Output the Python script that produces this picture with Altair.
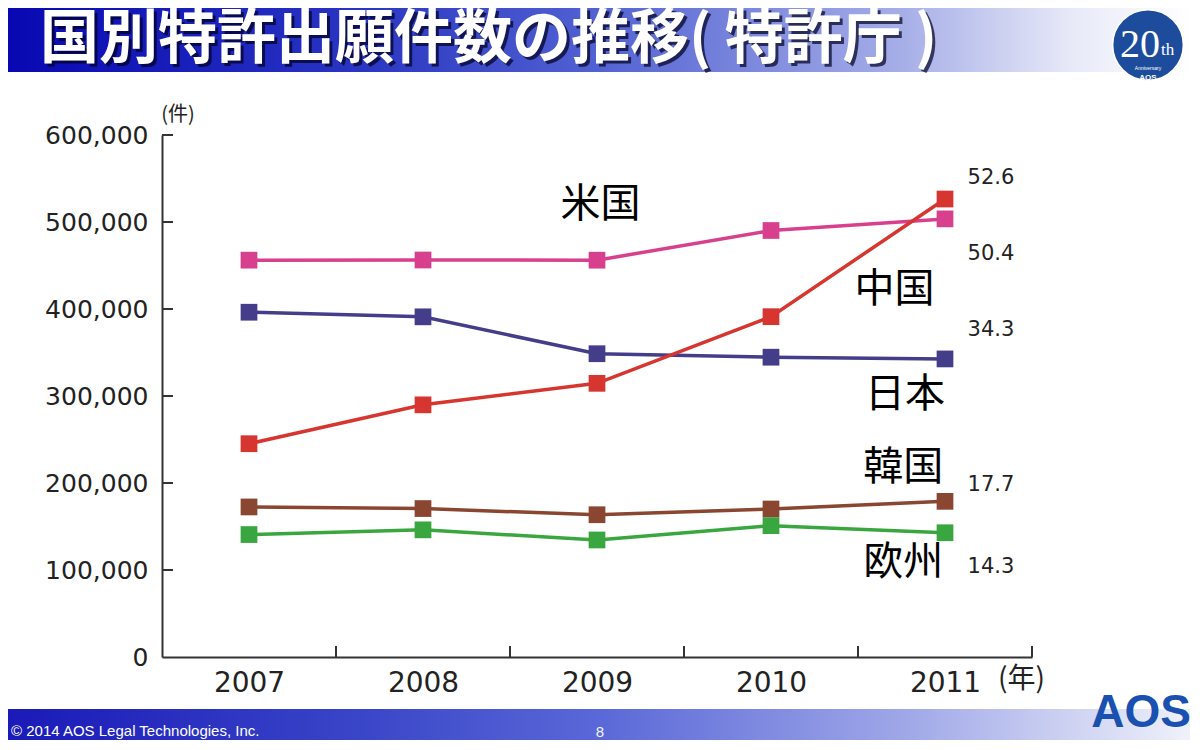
import altair as alt
import pandas as pd

# ---- data ----
years = [2007, 2008, 2009, 2010, 2011]
countries = ["米国", "日本", "中国", "韓国", "欧州"]
us = [456154, 456321, 456106, 490226, 503582]
japan = [396291, 391002, 348596, 344598, 342610]
china = [245161, 289838, 314573, 391177, 526412]
korea = [172469, 170632, 163523, 170101, 178924]
europe = [140763, 146150, 134511, 150961, 142822]
colors = ["#D8408E", "#443D8A", "#D63530", "#8A4630", "#3AA63F"]

y_ticks = [100000, 200000, 300000, 400000, 500000, 600000]
x_band_edges = [2007.5, 2008.5, 2009.5, 2010.5, 2011.5]

# annotation texts and their data positions
name_text = ["米国", "中国", "日本", "韓国", "欧州"]
name_x = [2009.02, 2010.71, 2010.77, 2010.76, 2010.76]
name_y = [520000, 422000, 301000, 217000, 108000]

share_text = ["52.6", "50.4", "34.3", "17.7", "14.3"]
share_x = [2011.13, 2011.13, 2011.13, 2011.13, 2011.13]
share_y = [550600, 463200, 375900, 197700, 103400]

title_text = "国別特許出願件数の推移( 特許庁 )"
footer_text = "© 2014 AOS Legal Technologies, Inc."
page_no = "8"

# ---- tables ----
series = {"米国": us, "日本": japan, "中国": china, "韓国": korea, "欧州": europe}
rows = []
for c in countries:
    for yr, v in zip(years, series[c]):
        rows.append({"country": c, "year": yr, "value": v})
df = pd.DataFrame(rows)
names_df = pd.DataFrame({"t": name_text, "x": name_x, "y": name_y})
share_df = pd.DataFrame({"t": share_text, "x": share_x, "y": share_y})
ytick_df = pd.DataFrame({"v": y_ticks})
xtick_df = pd.DataFrame({"v": x_band_edges})
one = pd.DataFrame({"a": [0]})

W, H = 870, 522
NUM_FONT = "DejaVu Sans"
JP_FONT = "Noto Sans CJK JP"

xs = alt.Scale(domain=[2006.5, 2011.5], nice=False, zero=False)
ys = alt.Scale(domain=[0, 600000], nice=False)
cs = alt.Scale(domain=countries, range=colors)

x_enc = alt.X("year:Q", scale=xs, axis=alt.Axis(
    values=years, format="d", title=None, grid=False, ticks=False,
    domainColor="#333333", domainWidth=2, labelFont=NUM_FONT, labelFontSize=28,
    labelColor="#222222", labelPadding=12))
y_enc = alt.Y("value:Q", scale=ys, axis=alt.Axis(
    values=[0] + y_ticks, format=",d", title=None, grid=False, ticks=False,
    domainColor="#333333", domainWidth=2, labelFont=NUM_FONT, labelFontSize=25,
    labelColor="#222222", labelPadding=14))

# decorative banners
top_grad = alt.LinearGradient(gradient="linear", x1=0, x2=1, y1=0, y2=0, stops=[
    alt.GradientStop(color="#0808b2", offset=0),
    alt.GradientStop(color="#2a36c2", offset=0.3),
    alt.GradientStop(color="#5262d2", offset=0.5),
    alt.GradientStop(color="#a8b0e8", offset=0.76),
    alt.GradientStop(color="#e8eaf8", offset=0.9),
    alt.GradientStop(color="#ffffff", offset=1)])
bot_grad = alt.LinearGradient(gradient="linear", x1=0, x2=1, y1=0, y2=0, stops=[
    alt.GradientStop(color="#1a1ab8", offset=0),
    alt.GradientStop(color="#3a46c8", offset=0.3),
    alt.GradientStop(color="#5a68d8", offset=0.5),
    alt.GradientStop(color="#a0a8e8", offset=0.76),
    alt.GradientStop(color="#f0f2fa", offset=1)])

top_band = alt.Chart(one).mark_rect(color=top_grad).encode(
    x=alt.value(-154), x2=alt.value(1030), y=alt.value(-127), y2=alt.value(-63))
bot_band = alt.Chart(one).mark_rect(color=bot_grad).encode(
    x=alt.value(-154), x2=alt.value(1030), y=alt.value(574), y2=alt.value(610))

title_shadow = alt.Chart(one).mark_text(
    text=title_text, font=JP_FONT, fontSize=59, fontWeight="bold", align="left",
    baseline="middle", color="#000022", opacity=0.7).encode(
    x=alt.value(-119), y=alt.value(-92))
title = alt.Chart(one).mark_text(
    text=title_text, font=JP_FONT, fontSize=59, fontWeight="bold", align="left",
    baseline="middle", color="#ffffff").encode(x=alt.value(-122), y=alt.value(-95))

logo_circle = alt.Chart(one).mark_point(
    shape="circle", filled=True, size=5000, fill="#1d4c9c", stroke="#ffffff",
    strokeWidth=1.5, opacity=1).encode(x=alt.value(986), y=alt.value(-90))
logo_20 = alt.Chart(one).mark_text(
    text="20", font="Liberation Serif", fontSize=40, color="#ffffff", align="center",
    baseline="alphabetic").encode(x=alt.value(978), y=alt.value(-78))
logo_th = alt.Chart(one).mark_text(
    text="th", font="Liberation Serif", fontSize=17, color="#ffffff", align="left",
    baseline="alphabetic").encode(x=alt.value(999), y=alt.value(-80))
logo_ann = alt.Chart(one).mark_text(
    text="Anniversary", font="Liberation Sans", fontSize=5, color="#ffffff",
    align="center").encode(x=alt.value(986), y=alt.value(-67))
logo_aos = alt.Chart(one).mark_text(
    text="AOS", font="Liberation Sans", fontSize=8, fontWeight="bold", color="#ffffff",
    align="center").encode(x=alt.value(986), y=alt.value(-57))

footer = alt.Chart(one).mark_text(
    text=footer_text, font="Liberation Sans", fontSize=15, color="#ffffff",
    align="left", baseline="middle").encode(x=alt.value(-151), y=alt.value(596))
page = alt.Chart(one).mark_text(
    text=page_no, font="Liberation Sans", fontSize=15, color="#f4f4ff",
    align="center", baseline="middle").encode(x=alt.value(438), y=alt.value(597))
aos_logo = alt.Chart(one).mark_text(
    text="AOS", font="Liberation Sans", fontSize=46, fontWeight="bold",
    color="#1a50b0", align="center", baseline="alphabetic").encode(
    x=alt.value(979), y=alt.value(592))

unit_y = alt.Chart(one).mark_text(
    text="(件)", font=JP_FONT, fontSize=20, color="#222222", align="center",
    baseline="middle").encode(x=alt.value(16), y=alt.value(-20))
unit_x = alt.Chart(one).mark_text(
    text="(年)", font=JP_FONT, fontSize=28, color="#222222", align="left",
    baseline="middle").encode(x=alt.value(836), y=alt.value(545))

# inward ticks
yticks = alt.Chart(ytick_df).mark_rule(color="#333333", strokeWidth=2).encode(
    y=alt.Y("v:Q", scale=ys), x=alt.value(0), x2=alt.value(11))
xticks = alt.Chart(xtick_df).mark_rule(color="#333333", strokeWidth=2).encode(
    x=alt.X("v:Q", scale=xs), y=alt.value(H), y2=alt.value(H - 11))

base = alt.Chart(df).encode(
    x=x_enc, y=y_enc,
    color=alt.Color("country:N", scale=cs, legend=None),
    order=alt.Order("year:Q"))
lines = base.mark_line(strokeWidth=3.5)
points = base.mark_square(size=280, opacity=1)

names = alt.Chart(names_df).mark_text(
    font=JP_FONT, fontSize=40, color="#000000", align="center", baseline="middle").encode(
    x=alt.X("x:Q", scale=xs), y=alt.Y("y:Q", scale=ys), text="t:N")
shares = alt.Chart(share_df).mark_text(
    font=NUM_FONT, fontSize=21, color="#222222", align="left", baseline="middle").encode(
    x=alt.X("x:Q", scale=xs), y=alt.Y("y:Q", scale=ys), text="t:N")

chart = alt.layer(
    top_band, bot_band, title_shadow, title,
    logo_circle, logo_20, logo_th, logo_ann, logo_aos,
    footer, page, aos_logo, unit_y, unit_x,
    lines, points, yticks, xticks, names, shares,
).properties(
    width=W, height=H,
    autosize=alt.AutoSizeParams(type="none"),
    padding={"left": 154, "top": 127, "right": 158, "bottom": 83},
    background="#ffffff",
).configure_view(stroke="transparent")

chart.save("out.html", embed_options={"renderer": "svg", "actions": False})
